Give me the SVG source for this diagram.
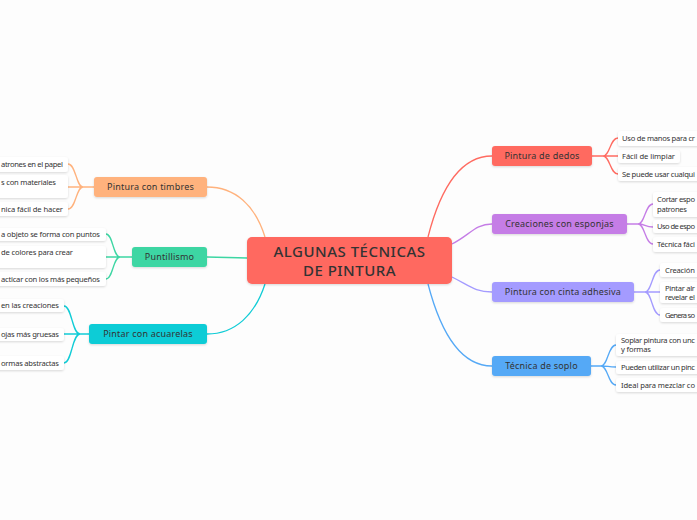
<svg xmlns="http://www.w3.org/2000/svg" width="697" height="520" viewBox="0 0 697 520">
<defs>
<filter id="sh" x="-10%" y="-30%" width="120%" height="170%">
<feDropShadow dx="0" dy="1" stdDeviation="1" flood-color="#000" flood-opacity="0.15"/>
</filter>
<style>
.leaf{fill:#fff;filter:url(#sh)}
.lt{font-family:"Noto Sans",sans-serif;font-size:7.6px;fill:#333}
.mt{font-family:"Noto Sans",sans-serif;font-size:9px;letter-spacing:0.2px;fill:#333;text-anchor:middle}
.ct{font-family:"Noto Sans",sans-serif;font-size:15px;letter-spacing:0.5px;fill:#333;text-anchor:middle;font-weight:500}
.c{fill:none;stroke-width:1.3}
</style>
</defs>
<rect width="697" height="520" fill="#fdfdfd"/>
<g id="connectors">
<g stroke="#ff6b61"><path class="c" d="M428,237 C440,190 460,156 492,156"/><path class="c" d="M592,156 H603 M603,156 C610,156 610,138 618,138 M603,156 H618 M603,156 C610,156 610,174 618,174"/></g>
<g stroke="#c57de6"><path class="c" d="M452,244 C470,235 475,224 492,224"/><path class="c" d="M627,224 H638 M638,224 C645,224 645,204 653,204 M638,224 C645,224 645,227 653,227 M638,224 C645,224 645,244 653,244"/></g>
<g stroke="#a49bff"><path class="c" d="M452,277 C470,286 475,292 492,292"/><path class="c" d="M634,292 H645 M645,292 C652,292 652,270 660,270 M645,292 H660 M645,292 C652,292 652,315 660,315"/></g>
<g stroke="#55a9f6"><path class="c" d="M428,284 C440,330 460,366 492,366"/><path class="c" d="M591,366 H601 M601,366 C608,366 608,345 616,345 M601,366 C608,366 608,367 616,367 M601,366 C608,366 608,385 616,385"/></g>
<g stroke="#ffb27d"><path class="c" d="M265,237 C255,205 235,187 207,187"/><path class="c" d="M94,187 H83 M83,187 C76,187 76,164 68,164 M83,187 H68 M83,187 C76,187 76,209 68,209"/></g>
<g stroke="#3dd6a3"><path class="c" d="M247,258 C230,258 225,257 207,257"/><path class="c" d="M132,257 H120 M120,257 C113,257 113,234 106,234 M120,257 H106 M120,257 C113,257 113,279 106,279"/></g>
<g stroke="#10ccd6"><path class="c" d="M265,284 C255,315 235,334 207,334"/><path class="c" d="M89,334 H80 M80,334 C72,334 72,306 64,306 M80,334 H64 M80,334 C72,334 72,363 64,363"/></g>
</g>
<g id="center"><rect x="247" y="237" width="205" height="47" rx="5" fill="#ff6961" filter="url(#sh)"/><text class="ct" x="349.5" y="257">ALGUNAS TÉCNICAS</text><text class="ct" x="349.5" y="276">DE PINTURA</text></g>
<g id="dedos"><rect x="492" y="146" width="100" height="20" rx="3" fill="#ff6b61" filter="url(#sh)"/><text class="mt" x="542" y="159">Pintura de dedos</text></g>
<g id="esponjas"><rect x="492" y="214" width="135" height="20" rx="3" fill="#c57de6" filter="url(#sh)"/><text class="mt" x="559.5" y="227">Creaciones con esponjas</text></g>
<g id="cinta"><rect x="492" y="282" width="142" height="20" rx="3" fill="#a49bff" filter="url(#sh)"/><text class="mt" x="563" y="295">Pintura con cinta adhesiva</text></g>
<g id="soplo"><rect x="492" y="356" width="99" height="20" rx="3" fill="#55a9f6" filter="url(#sh)"/><text class="mt" x="541.5" y="369">Técnica de soplo</text></g>
<g id="timbres"><rect x="94" y="177" width="113" height="20" rx="3" fill="#ffb27d" filter="url(#sh)"/><text class="mt" x="150.5" y="190">Pintura con timbres</text></g>
<g id="puntillismo"><rect x="132" y="247" width="75" height="20" rx="3" fill="#3dd6a3" filter="url(#sh)"/><text class="mt" x="169.5" y="260">Puntillismo</text></g>
<g id="acuarelas"><rect x="89" y="324" width="118" height="20" rx="3" fill="#10ccd6" filter="url(#sh)"/><text class="mt" x="148" y="337">Pintar con acuarelas</text></g>
<g id="leaves-dedos">
<rect class="leaf" x="618" y="131" width="100" height="15" rx="3"/><text class="lt" x="622" y="141" textLength="73" lengthAdjust="spacing">Uso de manos para cr</text>
<rect class="leaf" x="618" y="150" width="62" height="13" rx="3"/><text class="lt" x="622" y="159" textLength="53" lengthAdjust="spacing">Fácil de limpiar</text>
<rect class="leaf" x="618" y="167" width="100" height="14" rx="3"/><text class="lt" x="622" y="177" textLength="73" lengthAdjust="spacing">Se puede usar cualqui</text>
</g>
<g id="leaves-esponjas">
<rect class="leaf" x="653" y="192" width="60" height="25" rx="3"/><text class="lt" x="657" y="202" textLength="38" lengthAdjust="spacing">Cortar espo</text><text class="lt" x="657" y="212" textLength="30" lengthAdjust="spacing">patrones</text>
<rect class="leaf" x="653" y="220" width="60" height="13" rx="3"/><text class="lt" x="657" y="229" textLength="38" lengthAdjust="spacing">Uso de espo</text>
<rect class="leaf" x="653" y="237" width="60" height="15" rx="3"/><text class="lt" x="657" y="247" textLength="38" lengthAdjust="spacing">Técnica fáci</text>
</g>
<g id="leaves-cinta">
<rect class="leaf" x="660" y="263" width="60" height="14" rx="3"/><text class="lt" x="665" y="273" textLength="30" lengthAdjust="spacing">Creación</text>
<rect class="leaf" x="660" y="282" width="60" height="21" rx="3"/><text class="lt" x="665" y="291" textLength="30" lengthAdjust="spacing">Pintar alr</text><text class="lt" x="665" y="300" textLength="30" lengthAdjust="spacing">revelar el</text>
<rect class="leaf" x="660" y="308" width="60" height="14" rx="3"/><text class="lt" x="665" y="318" textLength="30" lengthAdjust="spacing">Genera so</text>
</g>
<g id="leaves-soplo">
<rect class="leaf" x="616" y="334" width="100" height="22" rx="3"/><text class="lt" x="621" y="343" textLength="74" lengthAdjust="spacing">Soplar pintura con unc</text><text class="lt" x="621" y="352" textLength="30" lengthAdjust="spacing">y formas</text>
<rect class="leaf" x="616" y="361" width="100" height="13" rx="3"/><text class="lt" x="621" y="370" textLength="74" lengthAdjust="spacing">Pueden utilizar un pinc</text>
<rect class="leaf" x="616" y="378" width="100" height="14" rx="3"/><text class="lt" x="621" y="388" textLength="74" lengthAdjust="spacing">Ideal para mezclar co</text>
</g>
<g id="leaves-timbres">
<rect class="leaf" x="-60" y="157" width="128" height="15" rx="3"/><text class="lt" x="1" y="167" textLength="62" lengthAdjust="spacing">atrones en el papel</text>
<rect class="leaf" x="-60" y="175" width="128" height="23" rx="3"/><text class="lt" x="1" y="185" textLength="55" lengthAdjust="spacing">s con materiales</text>
<rect class="leaf" x="-60" y="202" width="128" height="14" rx="3"/><text class="lt" x="1" y="212" textLength="62" lengthAdjust="spacing">nica fácil de hacer</text>
</g>
<g id="leaves-puntillismo">
<rect class="leaf" x="-60" y="228" width="166" height="13" rx="3"/><text class="lt" x="1" y="237" textLength="99" lengthAdjust="spacing">a objeto se forma con puntos</text>
<rect class="leaf" x="-60" y="246" width="166" height="22" rx="3"/><text class="lt" x="1" y="255" textLength="72" lengthAdjust="spacing">de colores para crear</text>
<rect class="leaf" x="-60" y="272" width="166" height="14" rx="3"/><text class="lt" x="1" y="282" textLength="99" lengthAdjust="spacing">acticar con los más pequeños</text>
</g>
<g id="leaves-acuarelas">
<rect class="leaf" x="-60" y="299" width="124" height="13" rx="3"/><text class="lt" x="1" y="308" textLength="58" lengthAdjust="spacing">en las creaciones</text>
<rect class="leaf" x="-60" y="328" width="124" height="13" rx="3"/><text class="lt" x="1" y="337" textLength="58" lengthAdjust="spacing">ojas más gruesas</text>
<rect class="leaf" x="-60" y="356" width="124" height="14" rx="3"/><text class="lt" x="1" y="366" textLength="58" lengthAdjust="spacing">ormas abstractas</text>
</g>
</svg>
